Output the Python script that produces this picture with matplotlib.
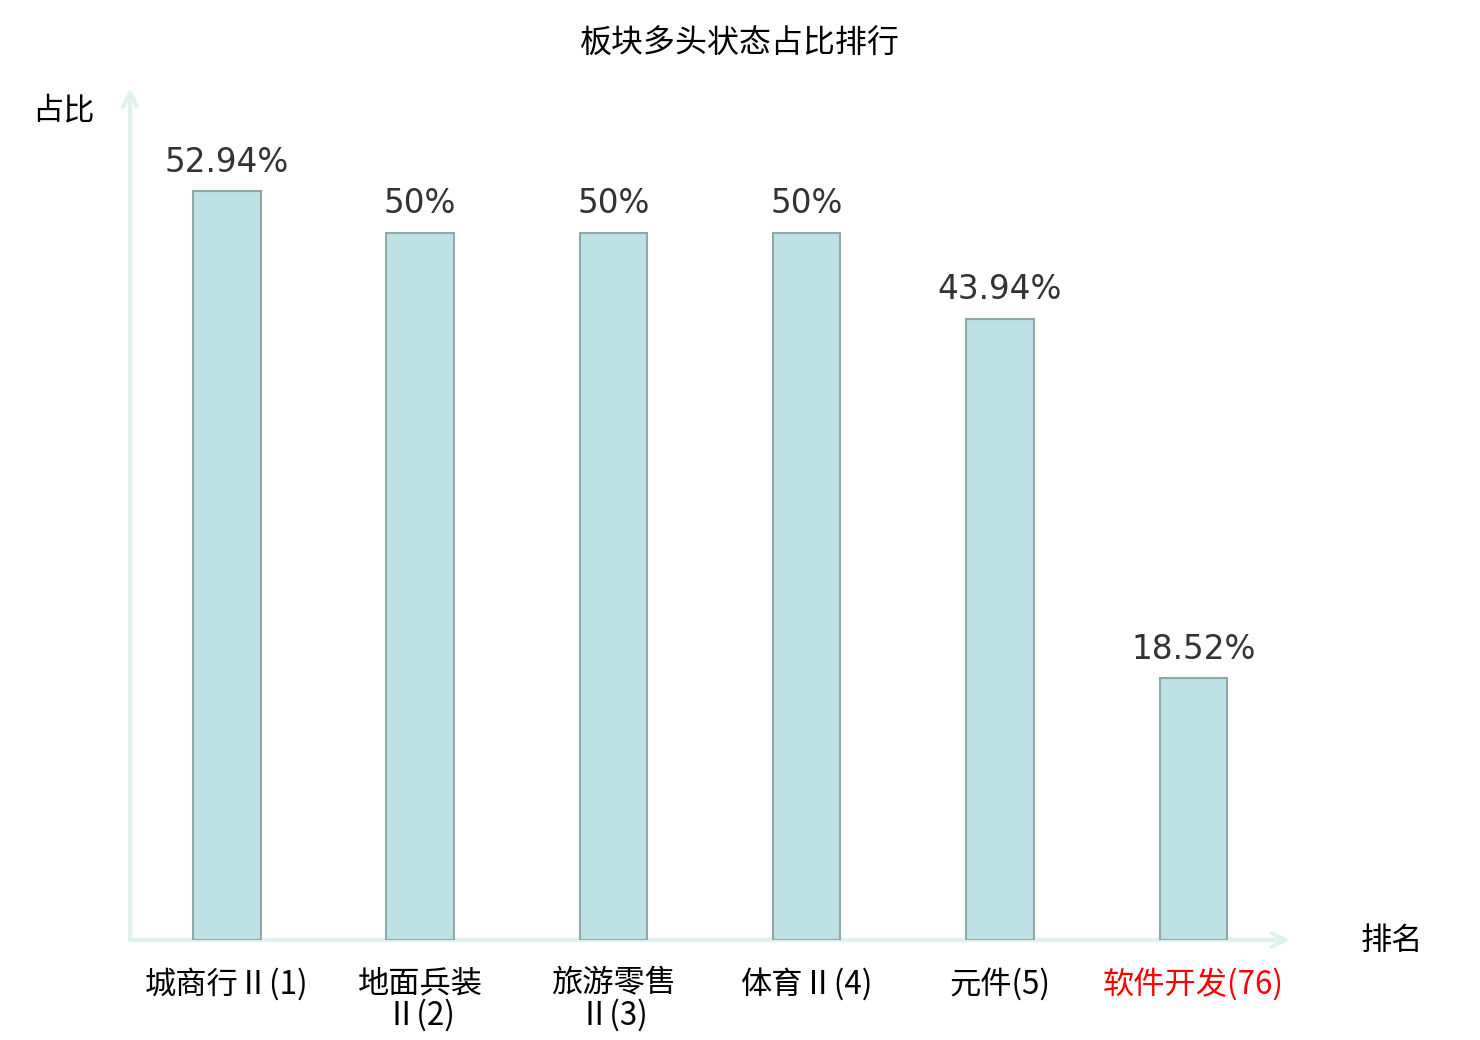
import matplotlib
matplotlib.use("Agg")
from matplotlib import pyplot as plt

plt.rcParams['font.family'] = ['Noto Sans CJK SC', 'DejaVu Sans']

# data
names = ["城商行Ⅱ", "地面兵装\nⅡ", "旅游零售\nⅡ", "体育Ⅱ", "元件", "软件开发"]
ranks = [1, 2, 3, 4, 5, 76]
ratios = [52.94, 50, 50, 50, 43.94, 18.52]
value_labels = ["52.94%", "50%", "50%", "50%", "43.94%", "18.52%"]
highlight = 5  # index of the red label

labels = ["%s(%d)" % (n, r) for n, r in zip(names, ranks)]

fig = plt.figure(figsize=(14.8, 10.4), dpi=100)
ax = fig.add_axes([130 / 1480, 100 / 1040, 1160 / 1480, 852 / 1040])

xs = list(range(len(ratios)))
bars = ax.bar(xs, ratios, width=0.35, color="#bde1e4", edgecolor="#8fa9a9", linewidth=1.5, zorder=3)

for x, v, t in zip(xs, ratios, value_labels):
    ax.annotate(t, (x, v), xytext=(0, 9), textcoords="offset points",
                ha="center", va="bottom", fontsize=23.5, color="#333333",
                family="DejaVu Sans")

ax.set_xlim(-0.5, 5.5)
ax.set_ylim(0, 60.25)

for s in ax.spines.values():
    s.set_visible(False)
ax.set_yticks([])
ax.set_xticks(xs)
ax.set_xticklabels(labels, fontsize=22.5, linespacing=0.98)
ax.tick_params(axis="x", length=0, pad=20)
for i, lab in enumerate(ax.get_xticklabels()):
    lab.set_color("#ff0000" if i == highlight else "black")

# axis arrows
axis_col = "#dff2ef"
ax.annotate("", xy=(1.0, 0), xytext=(0, 0), xycoords="axes fraction",
            arrowprops=dict(arrowstyle="->,head_length=1.0,head_width=0.5", color=axis_col, lw=3,
                            shrinkA=0, shrinkB=0), zorder=2, annotation_clip=False)
ax.annotate("", xy=(0, 1.0), xytext=(0, 0), xycoords="axes fraction",
            arrowprops=dict(arrowstyle="->,head_length=1.0,head_width=0.5", color=axis_col, lw=3,
                            shrinkA=0, shrinkB=0), zorder=2, annotation_clip=False)

fig.text(63 / 1480, 1 - 110 / 1040, "占比", ha="center", va="center", fontsize=22.5)
fig.text(1392 / 1480, 1 - 941 / 1040, "排名", ha="center", va="center", fontsize=22.5)
fig.text(740 / 1480, 1 - 44 / 1040, "板块多头状态占比排行", ha="center", va="center", fontsize=23)

fig.savefig("out.png", dpi=100)
